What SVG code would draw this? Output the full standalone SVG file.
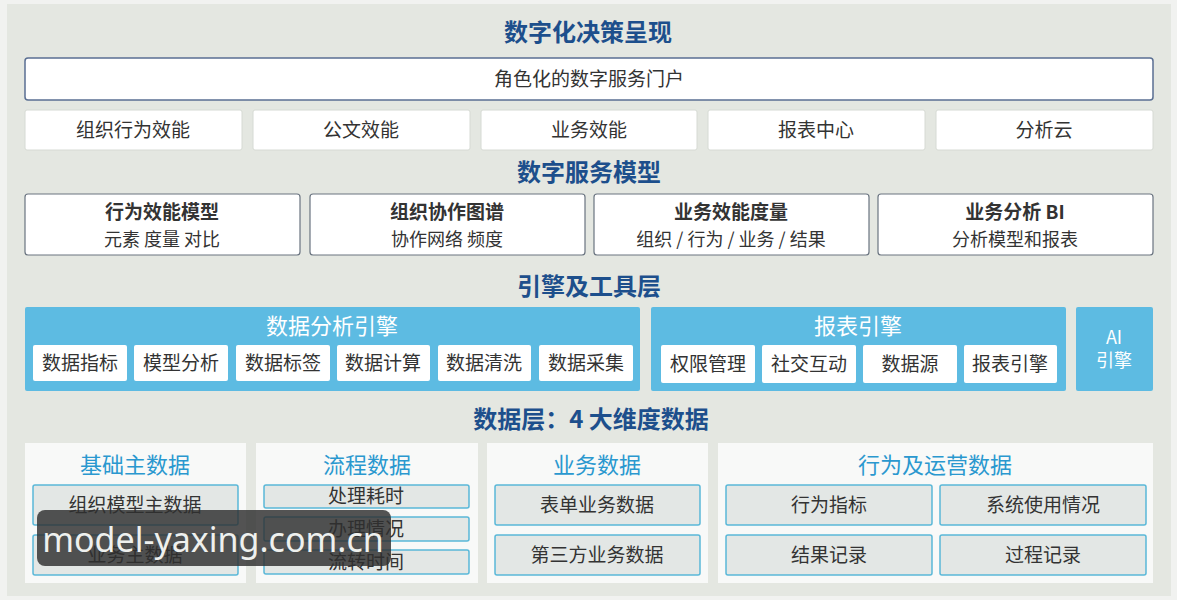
<svg xmlns="http://www.w3.org/2000/svg" width="1177" height="600" viewBox="0 0 1177 600">
<defs>
<style>
text{font-family:"Noto Sans CJK SC","Noto Sans",sans-serif;text-anchor:middle}
.h{font-size:24px;font-weight:bold;fill:#1d4f8c}
.t{font-size:19px;fill:#333}
.tb{font-size:19px;font-weight:bold;fill:#333}
.ts{font-size:18px;fill:#333}
.w{fill:#fff;stroke:#d6dad4;stroke-width:1}
.card{fill:#fff;stroke:#6a7480;stroke-width:1.2}
.eng{fill:#5dbbe2}
.et{font-size:22px;fill:#fff}
.sb{fill:#fff}
.dp{fill:#f8f9f8}
.dt{font-size:22px;fill:#2a98cf}
.db{fill:#e3e7e5;stroke:#5ab8d8;stroke-width:1.5}
</style>
</defs>
<rect x="0" y="0" width="1177" height="600" fill="#f1f2f0"/>
<rect x="7" y="4" width="1164" height="592" fill="#e4e7e1"/>

<g id="title1"><text class="h" x="588" y="41">数字化决策呈现</text></g>
<g id="portal"><rect x="25" y="58" width="1128" height="42" rx="3" fill="#fff" stroke="#5a6f92" stroke-width="1.5"/><text class="t" x="589" y="86">角色化的数字服务门户</text></g>
<g id="app1"><rect class="w" x="25" y="110" width="217" height="40" rx="2"/><text class="t" x="133" y="137">组织行为效能</text></g>
<g id="app2"><rect class="w" x="253" y="110" width="217" height="40" rx="2"/><text class="t" x="361" y="137">公文效能</text></g>
<g id="app3"><rect class="w" x="481" y="110" width="216" height="40" rx="2"/><text class="t" x="589" y="137">业务效能</text></g>
<g id="app4"><rect class="w" x="708" y="110" width="217" height="40" rx="2"/><text class="t" x="816" y="137">报表中心</text></g>
<g id="app5"><rect class="w" x="936" y="110" width="217" height="40" rx="2"/><text class="t" x="1044" y="137">分析云</text></g>

<g id="title2"><text class="h" x="589" y="181">数字服务模型</text></g>
<g id="m1"><rect class="card" x="25" y="194" width="275" height="61" rx="3"/><text class="tb" x="162" y="219">行为效能模型</text><text class="ts" x="162" y="246">元素 度量 对比</text></g>
<g id="m2"><rect class="card" x="310" y="194" width="275" height="61" rx="3"/><text class="tb" x="447" y="219">组织协作图谱</text><text class="ts" x="447" y="246">协作网络 频度</text></g>
<g id="m3"><rect class="card" x="594" y="194" width="275" height="61" rx="3"/><text class="tb" x="731" y="219">业务效能度量</text><text class="ts" x="731" y="246">组织 / 行为 / 业务 / 结果</text></g>
<g id="m4"><rect class="card" x="878" y="194" width="275" height="61" rx="3"/><text class="tb" x="1015" y="219">业务分析 BI</text><text class="ts" x="1015" y="246">分析模型和报表</text></g>

<g id="title3"><text class="h" x="589" y="295">引擎及工具层</text></g>
<g id="engine1">
<rect class="eng" x="25" y="307" width="615" height="84" rx="2"/>
<text class="et" x="332" y="334">数据分析引擎</text>
<rect class="sb" x="33" y="345" width="94" height="36" rx="2"/><text class="t" x="80" y="370">数据指标</text>
<rect class="sb" x="134" y="345" width="94" height="36" rx="2"/><text class="t" x="181" y="370">模型分析</text>
<rect class="sb" x="236" y="345" width="94" height="36" rx="2"/><text class="t" x="283" y="370">数据标签</text>
<rect class="sb" x="337" y="345" width="93" height="36" rx="2"/><text class="t" x="383" y="370">数据计算</text>
<rect class="sb" x="438" y="345" width="93" height="36" rx="2"/><text class="t" x="484" y="370">数据清洗</text>
<rect class="sb" x="539" y="345" width="94" height="36" rx="2"/><text class="t" x="586" y="370">数据采集</text>
</g>
<g id="engine2">
<rect class="eng" x="651" y="307" width="415" height="84" rx="2"/>
<text class="et" x="858" y="334">报表引擎</text>
<rect class="sb" x="661" y="345" width="94" height="38" rx="2"/><text class="t" x="708" y="371">权限管理</text>
<rect class="sb" x="762" y="345" width="94" height="38" rx="2"/><text class="t" x="809" y="371">社交互动</text>
<rect class="sb" x="863" y="345" width="94" height="38" rx="2"/><text class="t" x="910" y="371">数据源</text>
<rect class="sb" x="964" y="345" width="93" height="38" rx="2"/><text class="t" x="1010" y="371">报表引擎</text>
</g>
<g id="engine3">
<rect class="eng" x="1076" y="307" width="77" height="84" rx="2"/>
<text x="1114" y="344" style="font-size:18px;fill:#fff">AI</text>
<text x="1114" y="367" style="font-size:18px;fill:#fff">引擎</text>
</g>

<g id="title4"><text class="h" x="591" y="428">数据层：4 大维度数据</text></g>
<g id="d1">
<rect class="dp" x="25" y="443" width="221" height="140"/>
<text class="dt" x="135" y="473">基础主数据</text>
<rect class="db" x="33" y="485" width="205" height="40" rx="2"/><text class="t" x="135" y="512">组织模型主数据</text>
<rect class="db" x="33" y="535" width="205" height="40" rx="2"/><text class="t" x="135" y="562">业务主数据</text>
</g>
<g id="d2">
<rect class="dp" x="256" y="443" width="222" height="140"/>
<text class="dt" x="367" y="473">流程数据</text>
<rect class="db" x="264" y="485" width="205" height="23" rx="2"/><text class="t" x="366" y="503">处理耗时</text>
<rect class="db" x="264" y="517" width="205" height="24" rx="2"/><text class="t" x="366" y="536">办理情况</text>
<rect class="db" x="264" y="550" width="205" height="24" rx="2"/><text class="t" x="366" y="569">流转时间</text>
</g>
<g id="d3">
<rect class="dp" x="487" y="443" width="221" height="140"/>
<text class="dt" x="597" y="473">业务数据</text>
<rect class="db" x="495" y="485" width="205" height="40" rx="2"/><text class="t" x="597" y="512">表单业务数据</text>
<rect class="db" x="495" y="535" width="205" height="40" rx="2"/><text class="t" x="597" y="562">第三方业务数据</text>
</g>
<g id="d4">
<rect class="dp" x="718" y="443" width="435" height="140"/>
<text class="dt" x="935" y="473">行为及运营数据</text>
<rect class="db" x="726" y="485" width="206" height="40" rx="2"/><text class="t" x="829" y="512">行为指标</text>
<rect class="db" x="940" y="485" width="206" height="40" rx="2"/><text class="t" x="1043" y="512">系统使用情况</text>
<rect class="db" x="726" y="535" width="206" height="40" rx="2"/><text class="t" x="829" y="562">结果记录</text>
<rect class="db" x="940" y="535" width="206" height="40" rx="2"/><text class="t" x="1043" y="562">过程记录</text>
</g>
<g id="connectors"></g>
<g id="watermark">
<rect x="37" y="510" width="354" height="56" rx="8" fill="#2e2e2e" fill-opacity="0.82"/>
<text x="213" y="552" style="font-size:34px;fill:#eef0ee;font-family:'Noto Sans','Open Sans',sans-serif">model-yaxing.com.cn</text>
</g>
</svg>
